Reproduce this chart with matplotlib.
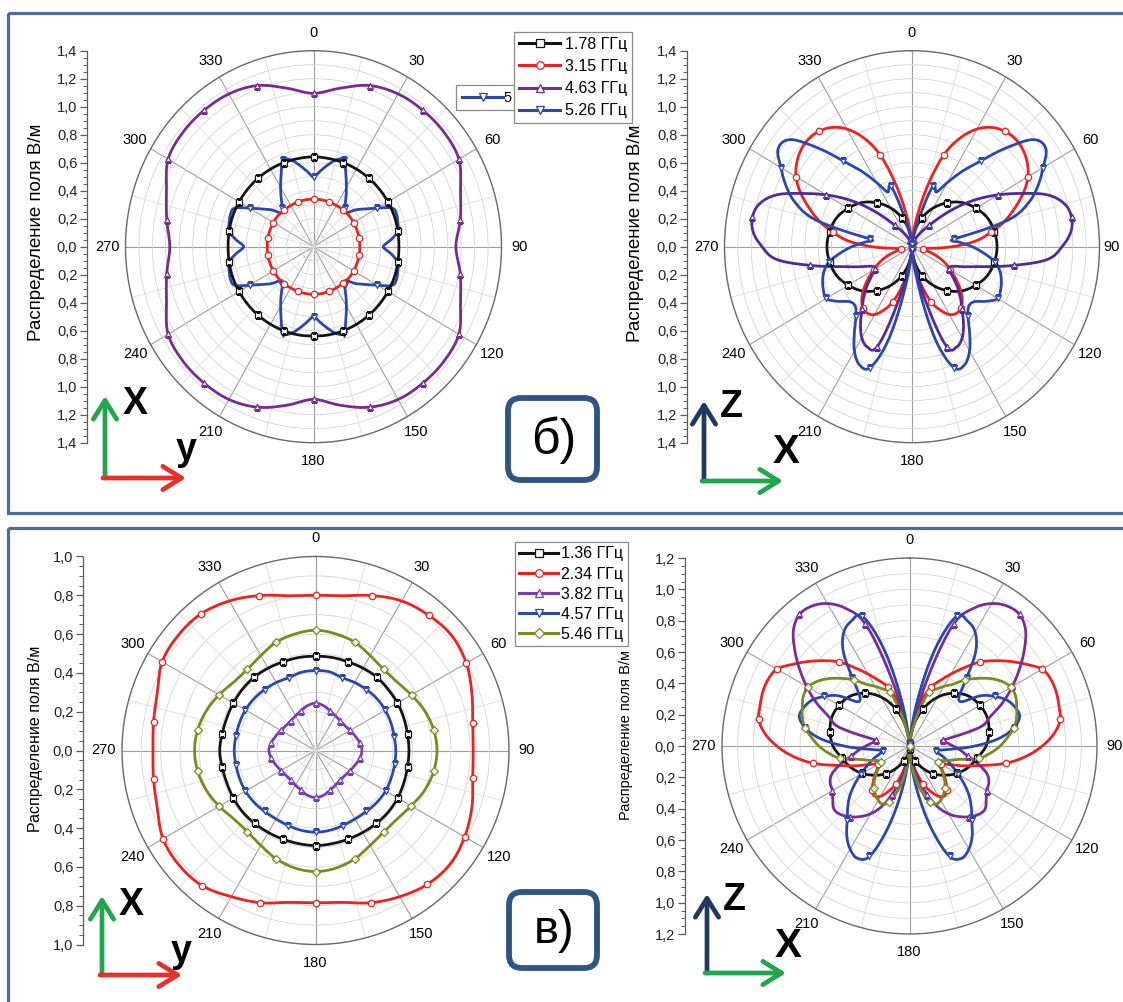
import numpy as np
import matplotlib
matplotlib.use("Agg")
import matplotlib.pyplot as plt
from matplotlib.lines import Line2D
from matplotlib.patches import Rectangle, FancyBboxPatch
from matplotlib.ticker import MultipleLocator, FuncFormatter

W, H = 1123, 1002
plt.rcParams['font.family'] = ['Liberation Sans', 'DejaVu Sans']
NARROW = ['Liberation Sans Narrow', 'Liberation Sans', 'DejaVu Sans']

# ---------------- data: field distribution, V/m, vs angle (deg) ----------------
ANG10 = list(range(0, 360, 10))
ANG5 = list(range(0, 360, 5))
THETA_LABELS = [str(a) for a in range(0, 360, 30)]

TOP_LABELS = ['1.78 ГГц', '3.15 ГГц', '4.63 ГГц', '5.26 ГГц']
BOT_LABELS = ['1.36 ГГц', '2.34 ГГц', '3.82 ГГц', '4.57 ГГц', '5.46 ГГц']

# б) XY plane
TL_178 = [0.642, 0.64, 0.64, 0.64, 0.64, 0.64, 0.64, 0.64, 0.638,
          0.636, 0.638, 0.64, 0.64, 0.64, 0.64, 0.64, 0.64, 0.64,
          0.638, 0.64, 0.64, 0.64, 0.64, 0.64, 0.64, 0.64, 0.638,
          0.636, 0.638, 0.64, 0.64, 0.64, 0.64, 0.64, 0.64, 0.64]
TL_315 = [0.34, 0.34, 0.34, 0.34, 0.345, 0.345, 0.345, 0.345, 0.345,
          0.345, 0.345, 0.345, 0.345, 0.345, 0.34, 0.34, 0.34, 0.34,
          0.34, 0.34, 0.34, 0.34, 0.345, 0.345, 0.345, 0.345, 0.345,
          0.345, 0.345, 0.345, 0.345, 0.345, 0.34, 0.34, 0.34, 0.34]
TL_463 = [1.095, 1.15, 1.225, 1.26, 1.27, 1.27, 1.25, 1.165, 1.11,
          1.06, 1.11, 1.165, 1.25, 1.27, 1.27, 1.26, 1.22, 1.15,
          1.09, 1.15, 1.22, 1.26, 1.27, 1.27, 1.25, 1.165, 1.11,
          1.07, 1.11, 1.165, 1.25, 1.27, 1.27, 1.26, 1.225, 1.15]
TL_526 = [0.50, 0.54, 0.59, 0.64, 0.66, 0.57, 0.49, 0.42, 0.36, 0.34, 0.41, 0.47, 0.55, 0.65, 0.66, 0.65, 0.64, 0.58,
          0.52, 0.58, 0.64, 0.65, 0.66, 0.65, 0.55, 0.47, 0.41, 0.34, 0.36, 0.42, 0.49, 0.57, 0.66, 0.64, 0.59, 0.54,
          0.50, 0.54, 0.59, 0.64, 0.66, 0.57, 0.49, 0.42, 0.36, 0.34, 0.41, 0.47, 0.55, 0.65, 0.66, 0.65, 0.64, 0.58,
          0.52, 0.58, 0.64, 0.65, 0.66, 0.65, 0.55, 0.47, 0.41, 0.34, 0.36, 0.42, 0.49, 0.57, 0.66, 0.64, 0.59, 0.54]

# б) XZ plane
TR_178 = [0.0, 0.11, 0.22, 0.32, 0.41, 0.49, 0.55, 0.60, 0.625,
          0.635, 0.625, 0.60, 0.55, 0.49, 0.41, 0.32, 0.22, 0.11,
          0.0, 0.11, 0.22, 0.32, 0.41, 0.49, 0.55, 0.60, 0.625,
          0.635, 0.625, 0.60, 0.55, 0.49, 0.41, 0.32, 0.22, 0.11]
TR_315 = [0.0, 0.08, 0.22, 0.45, 0.70, 0.86, 0.97, 1.04, 1.077, 1.09, 1.08, 1.05, 1.00, 0.92, 0.82, 0.72, 0.60, 0.48,
          0.30, 0.13, 0.08, 0.12, 0.20, 0.27, 0.33, 0.40, 0.47, 0.53, 0.57, 0.58, 0.56, 0.50, 0.42, 0.30, 0.18, 0.07,
          0.0, 0.07, 0.18, 0.30, 0.42, 0.50, 0.56, 0.58, 0.57, 0.53, 0.47, 0.40, 0.33, 0.27, 0.20, 0.12, 0.08, 0.13,
          0.30, 0.48, 0.60, 0.72, 0.82, 0.92, 1.00, 1.05, 1.08, 1.09, 1.077, 1.04, 0.97, 0.86, 0.70, 0.45, 0.22, 0.08]
TR_463 = [0.0, 0.01, 0.02, 0.03, 0.05, 0.07, 0.10, 0.14, 0.20, 0.30, 0.44, 0.59, 0.74, 0.90, 1.08, 1.18, 1.21, 1.19,
          1.12, 1.02, 0.77, 0.55, 0.42, 0.33, 0.32, 0.37, 0.44, 0.51, 0.58, 0.67, 0.75, 0.79, 0.76, 0.42, 0.15, 0.04,
          0.0, 0.04, 0.15, 0.42, 0.76, 0.79, 0.75, 0.67, 0.58, 0.51, 0.44, 0.37, 0.32, 0.33, 0.42, 0.55, 0.77, 1.02,
          1.12, 1.19, 1.21, 1.18, 1.08, 0.90, 0.74, 0.59, 0.44, 0.30, 0.20, 0.14, 0.10, 0.07, 0.05, 0.03, 0.02, 0.01]
TR_526 = [0.02, 0.05, 0.10, 0.22, 0.46, 0.43, 0.53, 0.66, 0.80, 1.00, 1.19, 1.22, 1.13, 1.04, 0.93, 0.75, 0.32, 0.36,
          0.45, 0.54, 0.63, 0.68, 0.71, 0.73, 0.74, 0.68, 0.61, 0.60, 0.65, 0.75, 0.86, 0.93, 0.92, 0.70, 0.30, 0.08,
          0.02, 0.08, 0.30, 0.70, 0.92, 0.93, 0.86, 0.75, 0.65, 0.60, 0.61, 0.68, 0.74, 0.73, 0.71, 0.68, 0.63, 0.54,
          0.45, 0.36, 0.32, 0.75, 0.93, 1.04, 1.13, 1.22, 1.19, 1.00, 0.80, 0.66, 0.53, 0.43, 0.46, 0.22, 0.10, 0.05]

# в) XY plane
BL_136 = [0.486, 0.487, 0.487, 0.49, 0.493, 0.49, 0.489, 0.486, 0.483,
          0.483, 0.483, 0.486, 0.49, 0.492, 0.49, 0.488, 0.487, 0.488,
          0.49, 0.488, 0.487, 0.488, 0.49, 0.492, 0.49, 0.488, 0.49,
          0.495, 0.49, 0.488, 0.49, 0.492, 0.493, 0.49, 0.487, 0.487]
BL_234 = [0.80, 0.81, 0.85, 0.89, 0.91, 0.92, 0.90, 0.86, 0.825,
          0.815, 0.825, 0.86, 0.89, 0.91, 0.90, 0.87, 0.835, 0.795,
          0.785, 0.795, 0.835, 0.87, 0.91, 0.92, 0.91, 0.87, 0.85,
          0.84, 0.85, 0.87, 0.915, 0.925, 0.92, 0.89, 0.85, 0.81]
BL_382 = [0.244, 0.235, 0.218, 0.207, 0.199, 0.199, 0.207, 0.218, 0.232,
          0.24, 0.232, 0.218, 0.207, 0.199, 0.199, 0.207, 0.218, 0.235,
          0.242, 0.235, 0.218, 0.207, 0.199, 0.199, 0.207, 0.218, 0.232,
          0.241, 0.232, 0.218, 0.207, 0.199, 0.199, 0.207, 0.218, 0.235]
BL_457 = [0.412, 0.412, 0.40, 0.405, 0.41, 0.415, 0.416, 0.415, 0.413,
          0.415, 0.415, 0.416, 0.418, 0.415, 0.41, 0.408, 0.412, 0.418,
          0.421, 0.418, 0.412, 0.408, 0.41, 0.415, 0.418, 0.418, 0.418,
          0.42, 0.418, 0.418, 0.418, 0.415, 0.41, 0.405, 0.40, 0.41]
BL_546 = [0.62, 0.61, 0.594, 0.565, 0.547, 0.55, 0.573, 0.60, 0.62,
          0.628, 0.62, 0.60, 0.571, 0.55, 0.549, 0.565, 0.594, 0.615,
          0.624, 0.615, 0.594, 0.565, 0.547, 0.55, 0.575, 0.60, 0.618,
          0.625, 0.618, 0.60, 0.575, 0.55, 0.547, 0.565, 0.594, 0.61]

# в) XZ plane
BR_136 = [0.02, 0.12, 0.25, 0.36, 0.44, 0.495, 0.52, 0.53, 0.516,
          0.49, 0.44, 0.40, 0.35, 0.29, 0.23, 0.16, 0.10, 0.05,
          0.02, 0.05, 0.10, 0.16, 0.23, 0.29, 0.35, 0.40, 0.44,
          0.49, 0.516, 0.53, 0.52, 0.495, 0.44, 0.36, 0.25, 0.12]
BR_234 = [0.0, 0.05, 0.15, 0.30, 0.40, 0.46, 0.53, 0.61, 0.70, 0.77, 0.84, 0.91, 0.98, 1.00, 1.00, 0.99, 0.98, 0.93,
          0.85, 0.75, 0.63, 0.48, 0.37, 0.28, 0.23, 0.25, 0.29, 0.33, 0.37, 0.39, 0.37, 0.32, 0.26, 0.18, 0.10, 0.04,
          0.0, 0.04, 0.10, 0.18, 0.26, 0.32, 0.37, 0.39, 0.37, 0.33, 0.29, 0.25, 0.23, 0.28, 0.37, 0.48, 0.63, 0.75,
          0.85, 0.93, 0.98, 0.99, 1.00, 1.00, 0.98, 0.91, 0.84, 0.77, 0.70, 0.61, 0.53, 0.46, 0.40, 0.30, 0.15, 0.05]
BR_382 = [0.0, 0.02, 0.12, 0.45, 0.83, 0.97, 1.05, 1.09, 1.096, 1.05, 0.96, 0.86, 0.76, 0.66, 0.55, 0.47, 0.22, 0.24,
          0.28, 0.33, 0.38, 0.46, 0.53, 0.56, 0.57, 0.60, 0.63, 0.62, 0.59, 0.55, 0.50, 0.43, 0.33, 0.22, 0.12, 0.04,
          0.0, 0.04, 0.12, 0.22, 0.33, 0.43, 0.50, 0.55, 0.59, 0.62, 0.63, 0.60, 0.57, 0.56, 0.53, 0.46, 0.38, 0.33,
          0.28, 0.24, 0.22, 0.47, 0.55, 0.66, 0.76, 0.86, 0.96, 1.05, 1.096, 1.09, 1.05, 0.97, 0.83, 0.45, 0.12, 0.02]
BR_457 = [0.02, 0.05, 0.30, 0.65, 0.88, 0.88, 0.84, 0.74, 0.57, 0.45, 0.44, 0.56, 0.632, 0.69, 0.72, 0.73, 0.68, 0.58,
          0.42, 0.25, 0.17, 0.20, 0.25, 0.30, 0.36, 0.43, 0.50, 0.56, 0.62, 0.70, 0.76, 0.79, 0.75, 0.55, 0.30, 0.10,
          0.02, 0.10, 0.30, 0.55, 0.75, 0.79, 0.76, 0.70, 0.62, 0.56, 0.50, 0.43, 0.36, 0.30, 0.25, 0.20, 0.17, 0.25,
          0.42, 0.58, 0.68, 0.73, 0.72, 0.69, 0.632, 0.56, 0.44, 0.45, 0.57, 0.74, 0.84, 0.88, 0.88, 0.65, 0.30, 0.05]
BR_546 = [0.0, 0.03, 0.10, 0.22, 0.37, 0.40, 0.44, 0.48, 0.55, 0.61, 0.67, 0.72, 0.75, 0.75, 0.73, 0.71, 0.68, 0.63,
          0.58, 0.52, 0.45, 0.33, 0.27, 0.22, 0.21, 0.24, 0.28, 0.32, 0.35, 0.38, 0.40, 0.41, 0.38, 0.30, 0.20, 0.08,
          0.0, 0.08, 0.20, 0.30, 0.38, 0.41, 0.40, 0.38, 0.35, 0.32, 0.28, 0.24, 0.21, 0.22, 0.27, 0.33, 0.45, 0.52,
          0.58, 0.63, 0.68, 0.71, 0.73, 0.75, 0.75, 0.72, 0.67, 0.61, 0.55, 0.48, 0.44, 0.40, 0.37, 0.22, 0.10, 0.03]

# ---------------- styles ----------------
BLACK = '#141414'
RED = '#f0201e'
PURPLE_T = '#7a2a8f'
PURPLE_TR = '#55289a'
PURPLE_B = '#7b3cb8'
PURPLE_BR = '#7a2a9c'
BLUE = '#2b47ae'
OLIVE = '#7b8a1c'
GRID_MAJOR = '#9e9e9e'
GRID_MINOR = '#dcdcdc'
FRAME = '#4e6c9a'


def closed_curve(ang_deg, r, steps=12):
    """Smooth closed Catmull-Rom path through (angle, r) samples, like a spline line."""
    a = np.asarray(ang_deg, float)
    p1 = np.asarray(r, float)
    p0, p2, p3 = np.roll(p1, 1), np.roll(p1, -1), np.roll(p1, -2)
    d = a[1] - a[0]
    t = np.linspace(0, 1, steps, endpoint=False)[:, None]
    seg = 0.5 * (2 * p1 + (p2 - p0) * t + (2 * p0 - 5 * p1 + 4 * p2 - p3) * t ** 2
                 + (3 * p1 - p0 - 3 * p2 + p3) * t ** 3)
    th = (a[None, :] + d * t).T.ravel()
    rr = seg.T.ravel()
    th = np.append(th, th[0] + 360)
    rr = np.append(rr, rr[0])
    return np.radians(th), np.clip(rr, 0, None)


def polar_panel(cx, cy, rx, ry, rmax, labels=THETA_LABELS):
    ax = fig.add_axes([(cx - rx) / W, 1 - (cy + ry) / H, 2 * rx / W, 2 * ry / H],
                      projection='polar')
    ax.set_aspect('auto')
    ax.set_theta_zero_location('N')
    ax.set_theta_direction(-1)
    ax.set_ylim(0, rmax)
    nring = int(round(rmax * 10))
    ax.set_yticks(np.arange(1, nring + 1) / 10)
    ax.set_yticklabels([])
    ax.set_xticks(np.radians(np.arange(0, 360, 30)))
    ax.set_xticklabels(labels)
    ax.set_xticks(np.radians(np.arange(15, 360, 30)), minor=True)
    ax.grid(True, which='major', axis='x', color=GRID_MAJOR, lw=0.8)
    ax.grid(True, which='minor', axis='x', color=GRID_MINOR, lw=0.6)
    ax.grid(True, which='major', axis='y', color='#d4d4d4', lw=0.6)
    ax.tick_params(axis='x', which='major', labelsize=10.5, pad=6, length=0)
    ax.tick_params(axis='x', which='minor', length=0)
    ax.tick_params(axis='y', length=0)
    ax.spines['polar'].set_color('#6a6a6a')
    ax.spines['polar'].set_linewidth(1.0)
    ax.set_facecolor('none')
    return ax


def radial_scale(x, y0, y1, rmax):
    ax = fig.add_axes([x / W, 1 - y1 / H, 0.5 / W, (y1 - y0) / H])
    ax.set_ylim(-rmax, rmax)
    ax.set_xticks([])
    for s in ('top', 'right', 'bottom'):
        ax.spines[s].set_visible(False)
    ax.spines['left'].set_color('#5a5a5a')
    ax.spines['left'].set_linewidth(0.9)
    ax.yaxis.set_major_locator(MultipleLocator(0.2))
    ax.yaxis.set_minor_locator(MultipleLocator(0.05))
    ax.yaxis.set_major_formatter(FuncFormatter(lambda v, p: f'{abs(v):.1f}'.replace('.', ',')))
    ax.tick_params(axis='y', which='major', length=5, width=0.9, color='#5a5a5a',
                   labelsize=10.5, pad=2, labelcolor='#222222')
    ax.tick_params(axis='y', which='minor', length=3, width=0.7, color='#5a5a5a')
    ax.patch.set_visible(False)
    return ax


def draw_series(ax, ang, r, color, marker, lw=2.0, ms=4.6):
    th, rr = closed_curve(ang, r)
    ax.plot(th, rr, color=color, lw=lw, solid_joinstyle='round', zorder=3)
    a = np.asarray(ang)
    v = np.asarray(r)
    sel = a % 20 == 0
    ax.plot(np.radians(a[sel]), v[sel], ls='none', marker=marker, ms=ms,
            mfc='white', mec=color, mew=0.9, zorder=4)


fig = plt.figure(figsize=(W / 100, H / 100), dpi=100)
fig.patch.set_facecolor('white')

# ---------------- б) ----------------
ax_tl = polar_panel(313.5, 246.7, 188, 196, 1.4)
radial_scale(87, 50.7, 442.7, 1.4)
draw_series(ax_tl, ANG5, TL_526, BLUE, 'v')
draw_series(ax_tl, ANG10, TL_463, PURPLE_T, '^')
draw_series(ax_tl, ANG10, TL_315, RED, 'o')
draw_series(ax_tl, ANG10, TL_178, BLACK, 's')

# the 90° label of this panel sits at the figure edge; it is placed by hand below
tr_labels = [lab if lab != '90' else '' for lab in THETA_LABELS]
ax_tr = polar_panel(912, 246.7, 187.5, 196, 1.4, labels=tr_labels)
radial_scale(687, 50.7, 442.7, 1.4)
draw_series(ax_tr, ANG10, TR_178, BLACK, 's')
draw_series(ax_tr, ANG5, TR_315, RED, 'o')
draw_series(ax_tr, ANG5, TR_463, PURPLE_TR, '^')
draw_series(ax_tr, ANG5, TR_526, BLUE, 'v')
fig.text(1120 / W, 1 - 247 / H, '90', fontsize=10.5, ha='right', va='center')

# ---------------- в) ----------------
ax_bl = polar_panel(315.5, 750.5, 193.5, 194, 1.0)
radial_scale(83, 556.5, 944.5, 1.0)
draw_series(ax_bl, ANG10, BL_234, RED, 'o')
draw_series(ax_bl, ANG10, BL_546, OLIVE, 'D', ms=4.2)
draw_series(ax_bl, ANG10, BL_136, BLACK, 's')
draw_series(ax_bl, ANG10, BL_457, BLUE, 'v')
draw_series(ax_bl, ANG10, BL_382, PURPLE_B, '^')

ax_br = polar_panel(909.5, 746, 187.5, 188, 1.2)
radial_scale(685, 558, 934, 1.2)
draw_series(ax_br, ANG10, BR_136, BLACK, 's')
draw_series(ax_br, ANG5, BR_234, RED, 'o')
draw_series(ax_br, ANG5, BR_382, PURPLE_BR, '^')
draw_series(ax_br, ANG5, BR_457, BLUE, 'v')
draw_series(ax_br, ANG5, BR_546, OLIVE, 'D', ms=4.2)

# ---------------- axis titles ----------------
YLAB = 'Распределение поля В/м'
fig.text(36.5 / W, 1 - 232 / H, YLAB, rotation=90, ha='center', va='center', fontsize=13.5)
fig.text(636 / W, 1 - 233.5 / H, YLAB, rotation=90, ha='center', va='center', fontsize=13.5)
fig.text(36 / W, 1 - 739 / H, YLAB, rotation=90, ha='center', va='center', fontsize=11.5)
fig.text(626 / W, 1 - 735 / H, YLAB, rotation=90, ha='center', va='center', fontsize=10.5)

# ---------------- legends ----------------
def handle(color, marker, ms=5.5):
    return Line2D([0], [0], color=color, lw=2.2, marker=marker, ms=ms, mfc='white', mec=color, mew=0.9)


top_handles = [handle(BLACK, 's'), handle(RED, 'o'), handle(PURPLE_T, '^'), handle(BLUE, 'v')]
leg_t = fig.legend(top_handles, TOP_LABELS, loc='upper left', bbox_to_anchor=(514 / W, 1 - 32 / H),
                   frameon=True, fancybox=False, edgecolor='#8a8a8a', framealpha=1, fontsize=11.5,
                   handlelength=2.6, handletextpad=0.3, borderpad=0.3, labelspacing=0.45,
                   borderaxespad=0, numpoints=1)
leg_t.get_frame().set_linewidth(0.9)

bot_handles = [handle(BLACK, 's'), handle(RED, 'o'), handle(PURPLE_B, '^'), handle(BLUE, 'v'),
               handle(OLIVE, 'D', 5)]
leg_b = fig.legend(bot_handles, BOT_LABELS, loc='upper left', bbox_to_anchor=(515 / W, 1 - 542 / H),
                   frameon=True, fancybox=False, edgecolor='#8a8a8a', framealpha=1, fontsize=11.5,
                   handlelength=2.4, handletextpad=0.2, borderpad=0.28, labelspacing=0.32,
                   borderaxespad=0, numpoints=1)
leg_b.get_frame().set_linewidth(0.9)

# ---------------- decorations in pixel coordinates ----------------
ov = fig.add_axes([0, 0, 1, 1], zorder=3)
ov.set_xlim(0, W)
ov.set_ylim(H, 0)
ov.axis('off')

# panel frames
ov.add_patch(Rectangle((8, 13), 1300, 500, fill=False, ec=FRAME, lw=2.3, clip_on=False))
ov.add_patch(Rectangle((8, 528), 1300, 600, fill=False, ec=FRAME, lw=2.3, clip_on=False))

# partially hidden legend entry behind the top legend
ov.add_patch(Rectangle((456, 85), 70, 24.5, fc='white', ec='#8a8a8a', lw=0.9))
ov.plot([462, 503], [97, 97], color=BLUE, lw=2.2)
ov.plot([482.5], [97], ls='none', marker='v', ms=5.5, mfc='white', mec=BLUE, mew=0.9)
ov.text(503, 97.5, '5', fontsize=10.5, va='center', ha='left')


def axis_arrow(x0, y0, x1, y1, color):
    ov.annotate('', xy=(x1, y1), xytext=(x0, y0),
                arrowprops=dict(arrowstyle='->,head_length=0.45,head_width=0.28', color=color,
                                lw=3.4, shrinkA=0, shrinkB=0, mutation_scale=30))


GREEN = '#22a64b'
ARED = '#e8302a'
NAVY = '#1f3a62'
# б) xy
axis_arrow(105, 478, 105, 396, GREEN)
axis_arrow(103, 478, 186, 478, ARED)
ov.text(135, 404, 'X', fontsize=27, fontweight='bold', family=NARROW, ha='center', va='center')
ov.text(186, 450, 'y', fontsize=27, fontweight='bold', family=NARROW, ha='center', va='center')
# б) xz
axis_arrow(704, 481, 704, 401, NAVY)
axis_arrow(702, 481, 783, 481, GREEN)
ov.text(731, 407, 'Z', fontsize=27, fontweight='bold', family=NARROW, ha='center', va='center')
ov.text(786, 452, 'X', fontsize=29, fontweight='bold', family=NARROW, ha='center', va='center')
# в) xy
axis_arrow(102, 975, 102, 896, GREEN)
axis_arrow(100, 975, 182, 975, ARED)
ov.text(131, 905, 'X', fontsize=27, fontweight='bold', family=NARROW, ha='center', va='center')
ov.text(181, 952, 'y', fontsize=27, fontweight='bold', family=NARROW, ha='center', va='center')
# в) xz
axis_arrow(707, 973, 707, 894, NAVY)
axis_arrow(705, 973, 786, 973, GREEN)
ov.text(734, 900, 'Z', fontsize=27, fontweight='bold', family=NARROW, ha='center', va='center')
ov.text(788, 946, 'X', fontsize=29, fontweight='bold', family=NARROW, ha='center', va='center')

# panel letters
for (x0, y0, x1, y1, txt, fs) in [(508, 398, 597, 480, 'б)', 36), (509, 892, 597, 968, 'в)', 34)]:
    ov.add_patch(FancyBboxPatch((x0, y0), x1 - x0, y1 - y0,
                                boxstyle='round,pad=0,rounding_size=13',
                                fc='white', ec='#2f5587', lw=4.2))
    ov.text((x0 + x1) / 2 + 1, (y0 + y1) / 2 + 1, txt, fontsize=fs, family=NARROW,
            ha='center', va='center')

fig.savefig('out.png', dpi=100)
